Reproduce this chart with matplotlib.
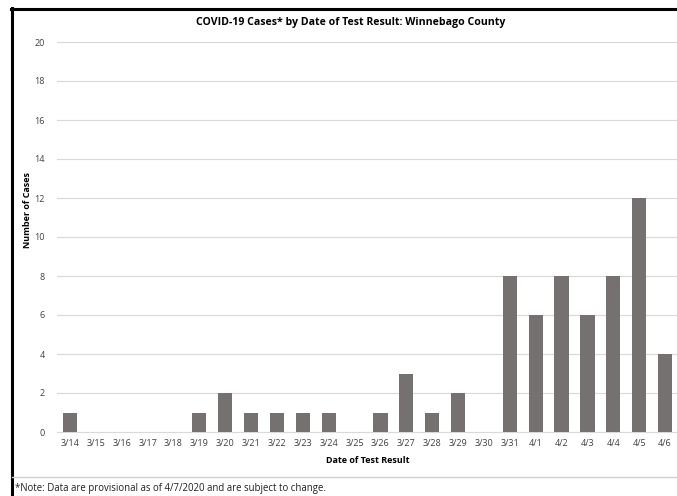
import matplotlib
matplotlib.use('Agg')
import matplotlib.pyplot as plt
from matplotlib.lines import Line2D

dates = ['3/14', '3/15', '3/16', '3/17', '3/18', '3/19', '3/20', '3/21',
         '3/22', '3/23', '3/24', '3/25', '3/26', '3/27', '3/28', '3/29',
         '3/30', '3/31', '4/1', '4/2', '4/3', '4/4', '4/5', '4/6']
cases = [1, 0, 0, 0, 0, 1, 2, 1, 1, 1, 1, 0, 1, 3, 1, 2, 0, 8, 6, 8, 6, 8, 12, 4]
yticks = [0, 2, 4, 6, 8, 10, 12, 14, 16, 18, 20]

plt.rcParams['font.family'] = ['Open Sans', 'DejaVu Sans']

fig = plt.figure(figsize=(6.77, 4.96), dpi=100)
ax = fig.add_axes([57 / 677, 1 - 432 / 496, 621 / 677, 390 / 496])

x = list(range(len(dates)))
ax.bar(x, cases, width=0.55, color='#767171', zorder=3)
ax.set_xlim(-0.5, len(dates) - 0.5)
ax.set_ylim(0, 20)
ax.set_yticks(yticks)
ax.set_xticks(x)
ax.set_xticklabels(dates)
ax.tick_params(axis='both', length=0, labelsize=6.5, colors='#404040')
ax.tick_params(axis='y', pad=9)
ax.tick_params(axis='x', pad=5)
ax.grid(axis='y', color='#d9d9d9', linewidth=0.8, zorder=0)
for s in ['top', 'right', 'left']:
    ax.spines[s].set_visible(False)
ax.spines['bottom'].set_color('#d9d9d9')
ax.spines['bottom'].set_linewidth(0.8)

ax.set_xlabel('Date of Test Result', fontsize=6.5, fontweight='bold', labelpad=6)
ax.set_ylabel('Number of Cases', fontsize=6.5, fontweight='bold')
ax.yaxis.set_label_coords(-0.041, 0.57)
fig.text(351 / 677, 1 - 22 / 496, 'COVID-19 Cases* by Date of Test Result: Winnebago County',
         ha='center', va='center', fontsize=7.6, fontweight='bold')

# outer frame and note separator
fig.add_artist(Line2D([11 / 677, 1], [1 - 9 / 496, 1 - 9 / 496], color='black', linewidth=2.2))
fig.add_artist(Line2D([12 / 677, 12 / 677], [0, 1 - 8 / 496], color='black', linewidth=2.2))
fig.add_artist(Line2D([12 / 677, 1], [1 - 477 / 496, 1 - 477 / 496], color='#d0d0d0', linewidth=1))
fig.text(15 / 677, 1 - 488 / 496, '*Note: Data are provisional as of 4/7/2020 and are subject to change.',
         ha='left', va='center', fontsize=6.9, color='#202020')

fig.savefig('out.png', dpi=100)
